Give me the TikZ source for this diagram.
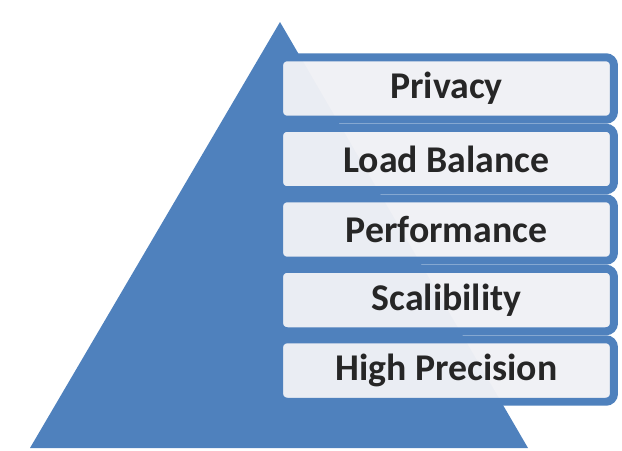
\documentclass[tikz,border=0pt]{standalone}
\usepackage{fontspec}
\setmainfont{Carlito}
\definecolor{pyrblue}{RGB}{79,129,189}
\definecolor{boxfill}{RGB}{240,241,245}
\tikzset{
  goalbox/.style={draw=pyrblue,line width=0.16cm,fill=boxfill,fill opacity=0.97,text opacity=1,
    rounded corners=0.16cm,minimum width=6.7cm,minimum height=1.25cm,
    font=\fontsize{21.5}{24}\selectfont\bfseries,text=black!85}
}
\begin{document}
\begin{tikzpicture}[x=0.02cm,y=-0.02cm]
\useasboundingbox (0,0) rectangle (622,450);
\fill[pyrblue] (280,22)--(30,448)--(528,448)--cycle;
\node[goalbox] (precision) at (446.5,370.5) {High Precision};
\node[goalbox] (scalibility) at (446.5,300) {Scalibility};
\node[goalbox] (performance) at (446.5,229.5) {Performance};
\node[goalbox] (loadbalance) at (446.5,159) {Load Balance};
\node[goalbox] (privacy) at (446.5,88.5) {Privacy};
\end{tikzpicture}
\end{document}
